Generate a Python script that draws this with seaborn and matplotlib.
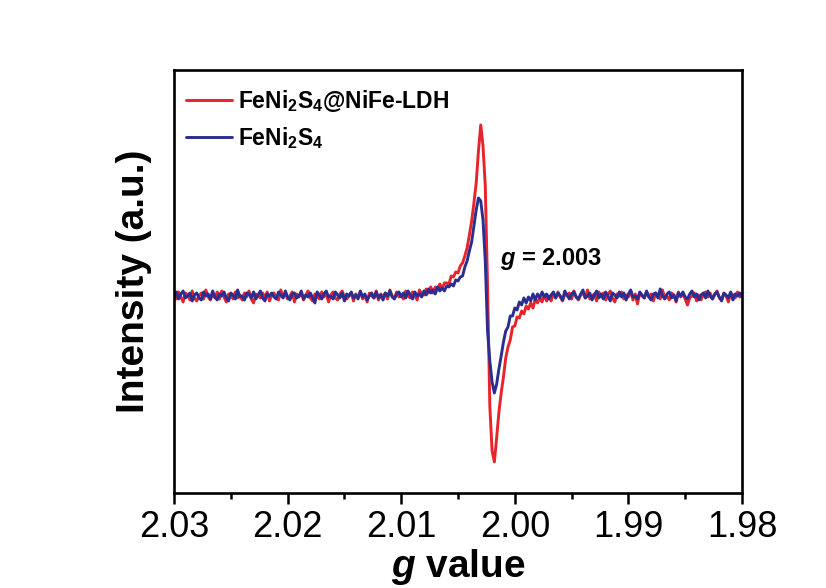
import numpy as np
import pandas as pd
import seaborn as sns
import matplotlib.pyplot as plt
from matplotlib.ticker import MultipleLocator

# g axis sampling (2.03 -> 1.98, step 0.0002)
g_value = np.round(np.linspace(2.03, 1.98, 251), 4)

# EPR signal (a.u., baseline = 0)
red_ldh = [
    2, -3, 4, -1, -6, 3, 1, -4, 5, -2,
    -5, 0, 3, -3, 6, -1, -4, 2, -2, 4,
    -3, 5, -1, -6, 2, 0, -3, 4, -2, 1,
    -4, 3, -1, 5, -3, -7, 2, 0, -2, 3,
    -1, 4, -5, 1, 3, -2, -4, 6, -1, 2,
    -3, 0, 4, -6, 2, -1, 3, -4, 1, 5,
    -2, -5, 2, 0, -3, 4, -1, 3, -6, 1,
    4, -2, -4, 2, 5, -1, -3, 0, 3, -5,
    2, -1, 4, -3, 1, -6, 3, 0, -2, 5,
    -4, 2, -1, 3, -3, 6, 0, -2, 4, -1,
    1, -3, 5, 0, -2, 4, 1, -4, 6, 2,
    1, 7, 3, 9, 3, 9, 6, 12, 7, 13,
    13, 12, 20, 19, 24, 23, 30, 33, 40, 48,
    61, 75, 93, 113, 145, 171, 150, 110, 10, -110,
    -155, -166, -142, -116, -97, -81, -62, -51, -44, -31,
    -30, -21, -22, -15, -18, -10, -13, -7, -12, -3,
    -7, -2, -6, 1, -5, 0, -5, 3, -2, 4,
    -1, -5, 2, 0, 3, -3, 5, -1, -4, 1,
    3, -2, 6, -3, 0, 2, -5, 4, -1, 3,
    -4, 1, 5, -2, -6, 2, 0, 4, -3, 1,
    -1, 5, -4, 2, -8, 3, 0, -2, 4, -1,
    2, -5, 3, 1, -3, 6, -2, 0, -4, 3,
    1, -6, 4, -1, 2, -3, -9, -2, 0, 3,
    -5, 1, -4, 2, 4, -1, 3, -3, 1, 5,
    -2, -4, 2, 0, -6, 3, 1, -2, 4, -1,
    2,
]
blue_fns = [
    -1, 4, -3, 2, 5, -2, 0, 3, -5, 1,
    3, -2, -4, 4, 0, 2, -3, 5, -1, -4,
    2, 0, 4, -2, -5, 3, 1, -3, 6, -1,
    0, -4, 3, 2, -2, 4, -3, 1, 5, -2,
    -5, 2, 0, 3, -1, -3, 4, 1, -2, 5,
    -1, -4, 2, 3, -2, 0, 5, -3, 1, -1,
    3, -2, -7, 4, 1, -3, 2, 5, -1, 0,
    -3, 4, 1, -2, 3, -5, 2, 0, 4, -2,
    1, -3, 5, -1, 2, -4, 0, 3, -2, 4,
    -2, 1, -4, 3, 0, 5, -1, -3, 2, 4,
    -1, 3, -2, 5, 1, -3, 4, 0, 2, -1,
    5, 1, 7, 3, 6, 2, 9, 5, 8, 5,
    10, 9, 12, 10, 16, 15, 19, 20, 29, 35,
    45, 54, 70, 86, 98, 95, 76, 35, -35, -65,
    -86, -97, -88, -73, -60, -46, -35, -31, -20, -20,
    -12, -14, -6, -9, -2, -7, -1, -5, 2, -4,
    2, -2, 4, -1, 2, -3, 1, 4, -2, 3,
    0, -4, 5, 1, -3, 2, 4, -1, -3, 2,
    6, -2, 0, 3, -4, 1, 5, -2, 2, -3,
    4, 0, -5, 3, 1, -2, 4, -1, 3, -4,
    2, 6, -1, 0, -3, 4, 1, -2, 5, -1,
    -4, 2, 3, -2, 7, 0, -3, 2, 4, -2,
    1, -5, 3, 0, 4, -1, -3, 2, 5, -1,
    2, -4, 1, 3, -2, 5, 0, -3, 2, 4,
    -1, -5, 3, 1, -2, 4, -4, 2, 0, 3,
    -1,
]
labels = [r"FeNi$_2$S$_4$@NiFe-LDH", r"FeNi$_2$S$_4$"]
colors = ["#E8232A", "#2B2E91"]
xticks = [2.03, 2.02, 2.01, 2.00, 1.99, 1.98]

df = pd.DataFrame({
    "g": np.concatenate([g_value, g_value]),
    "intensity": red_ldh + blue_fns,
    "sample": [labels[0]] * len(red_ldh) + [labels[1]] * len(blue_fns),
})

sns.set_theme(style="ticks")
plt.rcParams["font.family"] = ["Liberation Sans", "DejaVu Sans"]
plt.rcParams["text.color"] = "black"
plt.rcParams["axes.labelcolor"] = "black"
plt.rcParams["xtick.color"] = "black"
plt.rcParams["mathtext.fontset"] = "custom"
plt.rcParams["mathtext.rm"] = "Liberation Sans:bold"
plt.rcParams["mathtext.bf"] = "Liberation Sans:bold"
plt.rcParams["mathtext.it"] = "Liberation Sans:bold:italic"

fig, ax = plt.subplots(figsize=(8.26, 5.88), dpi=100)
fig.subplots_adjust(left=0.2107, right=0.8983, top=0.881, bottom=0.1616)

sns.lineplot(data=df, x="g", y="intensity", hue="sample", hue_order=labels,
             palette=colors, linewidth=2.1, estimator=None, ax=ax)

ax.set_xlim(2.03, 1.98)
ax.set_ylim(-197, 226)
ax.set_xticks(xticks)
ax.set_xticklabels(["%.2f" % t for t in xticks])
ax.xaxis.set_minor_locator(MultipleLocator(0.005))
ax.set_yticks([])
ax.tick_params(axis="x", which="major", direction="out", length=8, width=1.8,
               labelsize=26, pad=4, top=False, colors="black")
ax.tick_params(axis="x", which="minor", direction="out", length=4, width=1.8,
               top=False, colors="black")
for s in ax.spines.values():
    s.set_visible(True)
    s.set_linewidth(1.9)
    s.set_color("black")

ax.set_xlabel(r"$g$ value", fontsize=28, fontweight="bold", labelpad=2)
ax.set_ylabel("Intensity (a.u.)", fontsize=28, fontweight="bold", labelpad=16)

ax.text(2.0013, 37, r"$g$ = 2.003", fontsize=17, fontweight="bold",
        ha="left", va="center")

ax.legend(loc="upper left", frameon=False, prop={"weight": "bold", "size": 16.5},
          handlelength=2.0, handletextpad=0.25, labelspacing=0.45,
          bbox_to_anchor=(-0.015, 1.005))

fig.savefig("out.png", dpi=100)
